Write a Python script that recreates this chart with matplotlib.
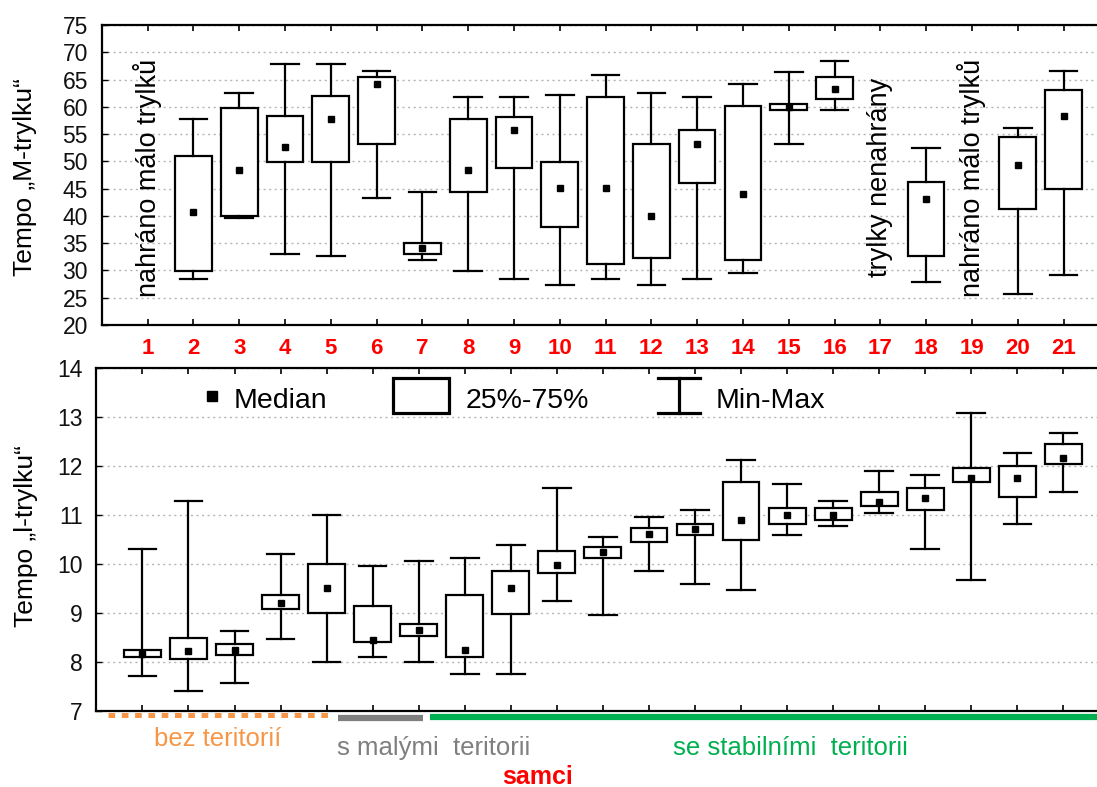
import numpy as np
import matplotlib
matplotlib.use("Agg")
import matplotlib.pyplot as plt
import matplotlib.transforms as mtransforms
from matplotlib.patches import Rectangle
from matplotlib.lines import Line2D

plt.rcParams['font.family'] = ['Liberation Sans', 'DejaVu Sans']

# --- DATA: tempo of the M-trill (top) ---
m_cats = [2, 3, 4, 5, 6, 7, 8, 9, 10, 11, 12, 13, 14, 15, 16, 18, 20, 21]
m_min = [28.4, 39.7, 33.1, 32.7, 43.2, 31.9, 29.9, 28.4, 27.3, 28.4, 27.3, 28.4, 29.5, 53.2, 59.4, 27.8, 25.7, 29.1]
m_q1 = [29.9, 40.0, 49.8, 49.8, 53.2, 33.0, 44.3, 48.7, 38.0, 31.1, 32.3, 46.0, 31.9, 59.5, 61.4, 32.7, 41.3, 45.0]
m_med = [40.7, 48.5, 52.6, 57.8, 64.1, 34.1, 48.5, 55.8, 45.2, 45.2, 39.9, 53.1, 44.0, 59.9, 63.2, 43.1, 49.3, 58.3]
m_q3 = [51.0, 59.7, 58.4, 61.9, 65.4, 35.1, 57.7, 58.1, 49.8, 61.8, 53.2, 55.7, 60.1, 60.6, 65.4, 46.3, 54.5, 63.0]
m_max = [57.7, 62.6, 67.8, 67.8, 66.6, 44.3, 61.8, 61.8, 62.2, 65.8, 62.6, 61.8, 64.2, 66.3, 68.4, 52.5, 56.1, 66.6]

# males without usable M-trills
note_cats = [1, 17, 19]
note_texts = ["nahráno málo trylků", "trylky nenahrány", "nahráno málo trylků"]

# --- DATA: tempo of the l-trill (bottom) ---
l_cats = list(range(1, 22))
l_min = [7.72, 7.40, 7.57, 8.46, 8.01, 8.10, 8.01, 7.76, 7.76, 9.24, 8.96, 9.85, 9.59, 9.46, 10.60, 10.78, 11.05, 10.31, 9.67, 10.82, 11.46]
l_q1 = [8.10, 8.06, 8.14, 9.09, 9.00, 8.41, 8.54, 8.10, 8.97, 9.81, 10.12, 10.44, 10.60, 10.49, 10.82, 10.90, 11.18, 11.10, 11.67, 11.37, 12.04]
l_med = [8.17, 8.22, 8.25, 9.20, 9.52, 8.44, 8.66, 8.25, 9.52, 9.97, 10.24, 10.62, 10.72, 10.90, 10.99, 10.99, 11.26, 11.35, 11.76, 11.76, 12.16]
l_q3 = [8.24, 8.50, 8.37, 9.36, 9.99, 9.14, 8.78, 9.36, 9.85, 10.26, 10.35, 10.73, 10.82, 11.68, 11.14, 11.14, 11.46, 11.55, 11.95, 11.99, 12.45]
l_max = [10.31, 11.28, 8.64, 10.21, 11.00, 9.95, 10.07, 10.12, 10.39, 11.55, 10.55, 10.95, 11.10, 12.13, 11.64, 11.28, 11.90, 11.82, 13.08, 12.27, 12.67]

# territory groups of males
group_names = ["bez teritorií", "s malými  teritorii", "se stabilními  teritorii"]
group_first = [1, 6, 8]
group_last = [5, 7, 21]
group_colors = ["#F79646", "#7F7F7F", "#00B050"]

XMAX = 21.73


def make_stats(mn, q1, med, q3, mx):
    return [dict(whislo=a, q1=b, med=c, q3=d, whishi=e, fliers=[])
            for a, b, c, d, e in zip(mn, q1, med, q3, mx)]


def draw_boxes(ax, cats, mn, q1, med, q3, mx):
    ax.bxp(make_stats(mn, q1, med, q3, mx), positions=cats, widths=0.8,
           capwidths=0.6, showfliers=False, patch_artist=True,
           manage_ticks=False, zorder=3,
           boxprops=dict(facecolor='white', edgecolor='black', linewidth=1.6),
           whiskerprops=dict(color='black', linewidth=1.6),
           capprops=dict(color='black', linewidth=1.6),
           medianprops=dict(visible=False))
    ax.plot(cats, med, 's', color='black', ms=4.8, zorder=5)


def style_axes(ax):
    ax.set_xlim(0, XMAX)
    ax.set_xticks(range(1, 22))
    ax.spines['right'].set_visible(False)
    for s in ['left', 'top', 'bottom']:
        ax.spines[s].set_linewidth(1.6)
    ax.tick_params(axis='x', direction='in', length=4, width=1.2, top=True, pad=9.5)
    ax.tick_params(axis='y', direction='in', length=4, width=1.0, labelsize=16.5,
                   pad=10, labelcolor='#111111')
    ax.yaxis.grid(True, linestyle=(0, (1.5, 2.5)), color='#b5b5b5', linewidth=1.0)
    ax.set_axisbelow(True)


fig = plt.figure(figsize=(10.97, 7.87), dpi=100)

# --- top panel ---
ax1 = fig.add_axes([101.8 / 1097, 0.587, 1 - 101.8 / 1097, 300 / 787])
draw_boxes(ax1, m_cats, m_min, m_q1, m_med, m_q3, m_max)
style_axes(ax1)
ax1.set_ylim(20, 75)
ax1.set_yticks(np.arange(20, 76, 5))
ax1.set_xticklabels([str(i) for i in range(1, 22)], color='red',
                    fontweight='bold', fontsize=16)
for c, t in zip(note_cats, note_texts):
    ax1.text(c, 47.0, t, rotation=90, ha='center', va='center', fontsize=19.5)
fig.text(25 / 1097, (787 - 177) / 787, "Tempo \u201eM-trylku\u201c",
         rotation=90, ha='center', va='center', fontsize=19)

# --- bottom panel ---
ax2 = fig.add_axes([96.4 / 1097, 76 / 787, 1 - 96.4 / 1097, 343 / 787])
draw_boxes(ax2, l_cats, l_min, l_q1, l_med, l_q3, l_max)
style_axes(ax2)
ax2.set_ylim(7, 14)
ax2.set_yticks(range(7, 15))
ax2.set_xticklabels([])
fig.text(26 / 1097, (787 - 536) / 787, "Tempo \u201el-trylku\u201c",
         rotation=90, ha='center', va='center', fontsize=19)

# legend drawn inside the bottom panel
ta = ax2.transAxes
ax2.plot([0.1155], [0.918], 's', color='black', ms=7.5, transform=ta, zorder=6)
ax2.text(0.1375, 0.883, "Median", transform=ta, fontsize=20.5, va='baseline')
ax2.add_patch(Rectangle((0.2964, 0.869), 0.056, 0.102, transform=ta,
                        facecolor='white', edgecolor='black', linewidth=2.3, zorder=6))
ax2.text(0.3693, 0.883, "25%-75%", transform=ta, fontsize=20.5, va='baseline')
for seg in [([0.582, 0.582], [0.869, 0.971]), ([0.561, 0.603], [0.971, 0.971]),
            ([0.561, 0.603], [0.869, 0.869])]:
    ax2.add_line(Line2D(seg[0], seg[1], transform=ta, color='black', linewidth=2.3, zorder=6))
ax2.text(0.619, 0.883, "Min-Max", transform=ta, fontsize=20.5, va='baseline')

# group bars and labels under the bottom panel
bt = mtransforms.blended_transform_factory(ax2.transData, fig.transFigure)
label_x = [2.63, 7.33, 15.08]
label_base = [41 / 787, 32 / 787, 32 / 787]
bar_y = [72 / 787, 69 / 787, 70.5 / 787]
for i, name in enumerate(group_names):
    x0 = group_first[i] - 0.75
    x1 = group_last[i] + 0.1 if i < 2 else XMAX
    if i == 0:
        ax2.plot([x0, x1], [bar_y[i]] * 2, transform=bt, color=group_colors[i],
                 lw=3.6, linestyle=(0, (1.33, 1.33)), clip_on=False)
    else:
        ax2.plot([x0, x1], [bar_y[i]] * 2, transform=bt, color=group_colors[i],
                 lw=4.5, solid_capstyle='butt', clip_on=False)
    ax2.text(label_x[i], label_base[i], name, transform=bt, color=group_colors[i],
             fontsize=18.5, ha='center', va='baseline')
ax2.text(9.57, 3 / 787, "samci", transform=bt, color='red', fontsize=18,
         fontweight='bold', ha='center', va='baseline')

fig.savefig("out.png", dpi=100)
